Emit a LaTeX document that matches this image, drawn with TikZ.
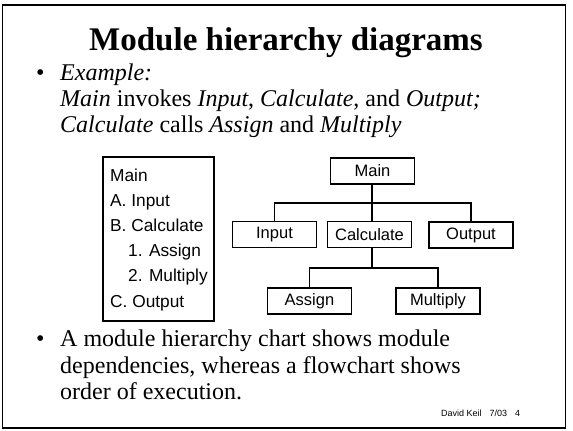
\documentclass[tikz,border=0pt]{standalone}
\usepackage{fontspec}
\setmainfont{Liberation Serif}
\setsansfont{Liberation Sans}
\begin{document}
\begin{tikzpicture}[x=1pt,y=-1pt,
  body/.style={anchor=base west,inner sep=0pt,font=\fontsize{24}{26}\selectfont},
  mod/.style={draw,line width=1.3pt,minimum width=84pt,minimum height=26pt,inner sep=0pt,font=\sffamily\fontsize{16.5}{18}\selectfont},
  conn/.style={line width=1.3pt},
  outl/.style={anchor=base west,inner sep=0pt,font=\sffamily\fontsize{17.3}{20}\selectfont}]
\useasboundingbox (0,0) rectangle (573,431);
\draw[line width=1.8pt] (2.5,5) rectangle (565.5,428);
\node[anchor=base,inner sep=0pt,font=\bfseries\fontsize{33}{36}\selectfont] (title) at (286,50) {Module hierarchy diagrams};
\node[body] (b1) at (36,80) {\textbullet};
\node[body] (l1) at (60,80) {\textit{Example:}};
\node[body] (l2) at (60,106) {\textit{Main} invokes \textit{Input}, \textit{Calculate}, and \textit{Output;}};
\node[body] (l3) at (60,132) {\textit{Calculate} calls \textit{Assign} and \textit{Multiply}};
% outline
\draw[line width=1.3pt] (103,157) rectangle (214,321);
\node[outl] (o1) at (110,181) {Main};
\node[outl] (o2) at (110,206) {A. Input};
\node[outl] (o3) at (110,231) {B. Calculate};
\node[outl] (o4) at (128,256) {1. Assign};
\node[outl] (o5) at (128,281) {2. Multiply};
\node[outl] (o6) at (110,307) {C. Output};
% tree
\node[mod] (main) at (372.5,171) {Main};
\node[mod] (input) at (274.5,234.5) {Input};
\node[mod] (calc) at (369.5,234.5) {Calculate};
\node[mod] (output) at (471,235) {Output};
\node[mod] (assign) at (309.5,301) {Assign};
\node[mod] (mult) at (438,301) {Multiply};
\coordinate (h1) at (372,203);
\coordinate (h2) at (372,268);
\draw[conn] (main.south -| h1) -- (h1);
\draw[conn] (input.north) -- (input.north |- h1) -- (output.north |- h1) -- (output.north);
\draw[conn] (h1) -- (calc.north -| h1);
\draw[conn] (calc.south -| h2) -- (h2);
\draw[conn] (assign.north) -- (assign.north |- h2) -- (mult.north |- h2) -- (mult.north);
% bottom bullet
\node[body] (b2) at (36,346) {\textbullet};
\node[body] (m1) at (60,346) {A module hierarchy chart shows module};
\node[body] (m2) at (60,373) {dependencies, whereas a flowchart shows};
\node[body] (m3) at (60,399) {order of execution.};
\node[anchor=base west,inner sep=0pt,font=\sffamily\fontsize{9}{10}\selectfont] (foot) at (441,416) {David Keil\hspace{8pt}7/03\hspace{8pt}4};
\end{tikzpicture}
\end{document}
